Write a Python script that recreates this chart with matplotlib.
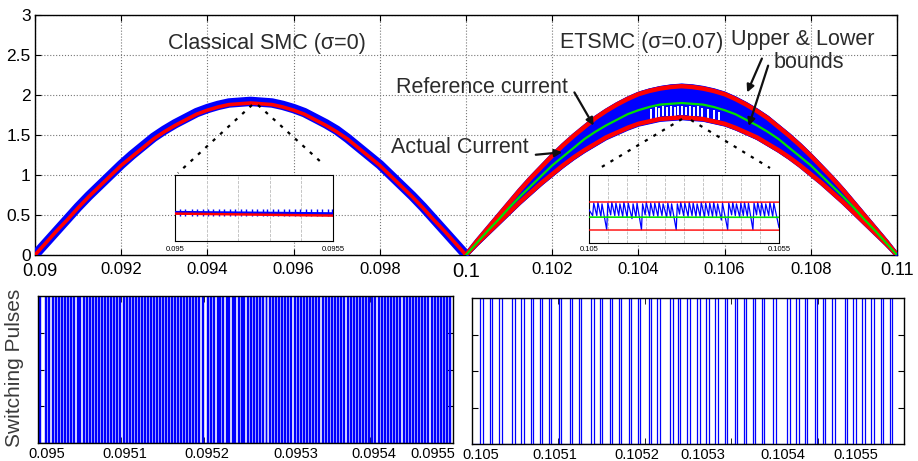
import numpy as np
import matplotlib
matplotlib.use("Agg")
import matplotlib.pyplot as plt
from matplotlib.ticker import FixedLocator

plt.rcParams['font.family'] = ['Liberation Sans', 'DejaVu Sans']

# ---------------- data ----------------
t_left_ms = [90.0, 90.25, 90.5, 90.75, 91.0, 91.25, 91.5, 91.75, 92.0, 92.25, 92.5,
             92.75, 93.0, 93.25, 93.5, 93.75, 94.0, 94.25, 94.5, 94.75, 95.0,
             95.25, 95.5, 95.75, 96.0, 96.25, 96.5, 96.75, 97.0, 97.25, 97.5,
             97.75, 98.0, 98.25, 98.5, 98.75, 99.0, 99.25, 99.5, 99.75, 100.0]
t_right_ms = [100.0, 100.25, 100.5, 100.75, 101.0, 101.25, 101.5, 101.75, 102.0, 102.25, 102.5,
              102.75, 103.0, 103.25, 103.5, 103.75, 104.0, 104.25, 104.5, 104.75, 105.0,
              105.25, 105.5, 105.75, 106.0, 106.25, 106.5, 106.75, 107.0, 107.25, 107.5,
              107.75, 108.0, 108.25, 108.5, 108.75, 109.0, 109.25, 109.5, 109.75, 110.0]
ref_left = [0.00, 0.15, 0.30, 0.44, 0.59, 0.73, 0.86, 0.99, 1.12, 1.23, 1.34,
            1.45, 1.54, 1.62, 1.69, 1.76, 1.81, 1.85, 1.88, 1.89, 1.90,
            1.89, 1.88, 1.85, 1.81, 1.76, 1.69, 1.62, 1.54, 1.45, 1.34,
            1.23, 1.12, 0.99, 0.86, 0.73, 0.59, 0.44, 0.30, 0.15, 0.00]
actual_left = [0.00, 0.15, 0.30, 0.45, 0.60, 0.74, 0.87, 1.00, 1.13, 1.25, 1.36,
               1.47, 1.56, 1.64, 1.71, 1.78, 1.83, 1.87, 1.90, 1.91, 1.92,
               1.91, 1.90, 1.87, 1.83, 1.78, 1.71, 1.64, 1.56, 1.46, 1.35,
               1.24, 1.13, 1.00, 0.87, 0.74, 0.60, 0.45, 0.30, 0.15, 0.00]
ref_right = [0.00, 0.15, 0.30, 0.44, 0.59, 0.73, 0.86, 0.99, 1.12, 1.23, 1.34,
             1.45, 1.54, 1.62, 1.69, 1.76, 1.81, 1.85, 1.88, 1.89, 1.90,
             1.89, 1.88, 1.85, 1.81, 1.76, 1.69, 1.62, 1.54, 1.45, 1.34,
             1.23, 1.12, 0.99, 0.86, 0.73, 0.59, 0.44, 0.30, 0.15, 0.00]
upper_right = [0.00, 0.17, 0.33, 0.49, 0.65, 0.81, 0.96, 1.10, 1.24, 1.37, 1.49,
               1.60, 1.71, 1.80, 1.88, 1.95, 2.01, 2.05, 2.08, 2.10, 2.11,
               2.10, 2.08, 2.05, 2.01, 1.95, 1.88, 1.80, 1.71, 1.60, 1.49,
               1.37, 1.24, 1.10, 0.96, 0.81, 0.65, 0.49, 0.33, 0.17, 0.00]
lower_right = [0.00, 0.14, 0.27, 0.40, 0.53, 0.66, 0.78, 0.90, 1.01, 1.12, 1.22,
               1.31, 1.39, 1.47, 1.53, 1.59, 1.64, 1.67, 1.70, 1.71, 1.72,
               1.71, 1.70, 1.67, 1.64, 1.59, 1.53, 1.47, 1.39, 1.31, 1.22,
               1.12, 1.01, 0.90, 0.78, 0.66, 0.53, 0.40, 0.27, 0.14, 0.00]
# white gaps inside the ETSMC band near the crest (time in ms, top of the gap)
gap_t_ms = [104.30, 104.40, 104.48, 104.57, 104.66, 104.75, 104.84, 104.93, 105.02,
            105.11, 105.20, 105.29, 105.38, 105.47, 105.62, 105.76, 105.86]
gap_top = [1.83, 1.85, 1.84, 1.86, 1.85, 1.86, 1.85, 1.86, 1.86,
           1.85, 1.86, 1.85, 1.86, 1.84, 1.83, 1.81, 1.79]

top_xticks = [0.09, 0.092, 0.094, 0.096, 0.098, 0.1, 0.102, 0.104, 0.106, 0.108, 0.11]
top_xlabels = ['', '0.092', '0.094', '0.096', '0.098', '0.1', '0.102', '0.104',
               '0.106', '0.108', '0.11']
first_xlabel = '0.09'
top_yticks = [0, 0.5, 1, 1.5, 2, 2.5, 3]
top_ylabels = ['0', '0.5', '1', '1.5', '2', '2.5', '3']

# left inset (classical SMC, 0.095 .. 0.0955 s): spike times in microseconds after 0.095
left_inset_spikes_us = [15.8, 31.6, 52.7, 68.6, 87.6, 103.4, 121.4, 140.3, 155.1, 174.1,
                        189.9, 208.9, 224.8, 242.7, 258.5, 277.5, 292.3, 311.3, 327.1,
                        345.1, 362.0, 379.9, 395.7, 414.7, 430.6, 448.5, 464.4, 483.4, 496.0]
left_inset_ref = [1.903, 1.897]
left_inset_base = [1.906, 1.902]
left_inset_spike_top = 1.918

# ETSMC switching instants (microseconds after 0.105 s)
right_rise_us = [9.6, 20.5, 31.3, 46.6, 57.1, 67.9, 78.4, 88.8, 100.3, 113.1, 123.5,
                 138.1, 147.8, 159.4, 170.1, 181.4, 192.1, 204.5, 214.5, 229.5, 238.4,
                 249.2, 260.8, 271.2, 281.6, 292.5, 304.1, 314.8, 325.2, 335.6, 348.4,
                 364.9, 375.4, 385.1, 396.6, 406.2, 416.7, 431.4, 441.0, 451.4, 462.2,
                 473.0, 483.5]
right_fall_us = [12.5, 23.4, 34.2, 49.5, 60.0, 70.8, 81.3, 91.7, 103.2, 116.0, 126.4,
                 141.0, 150.7, 162.3, 173.0, 184.3, 195.0, 207.4, 217.4, 232.4, 241.3,
                 252.1, 263.7, 274.1, 284.5, 295.4, 307.0, 317.7, 328.1, 338.5, 351.3,
                 367.8, 378.3, 388.0, 399.5, 409.1, 419.6, 434.3, 443.9, 454.3, 465.1,
                 475.9, 486.4]
right_trough = [1.92, 1.92, 1.91, 1.73, 1.93, 1.92, 1.92, 1.91, 1.90, 1.88, 1.90,
                1.73, 1.93, 1.91, 1.92, 1.91, 1.92, 1.90, 1.91, 1.73, 1.94,
                1.92, 1.91, 1.92, 1.91, 1.91, 1.90, 1.92, 1.91, 1.91, 1.86,
                1.73, 1.93, 1.92, 1.90, 1.92, 1.91, 1.73, 1.93, 1.92, 1.91,
                1.92, 1.91]
right_peak = [2.09, 2.10, 2.08, 2.09, 2.10, 2.09, 2.08, 2.10, 2.09, 2.08, 2.09,
              2.08, 2.10, 2.09, 2.09, 2.10, 2.08, 2.09, 2.08, 2.08, 2.10,
              2.09, 2.10, 2.09, 2.08, 2.10, 2.09, 2.09, 2.10, 2.08, 2.09,
              2.09, 2.10, 2.08, 2.09, 2.10, 2.09, 2.09, 2.10, 2.09, 2.08,
              2.10, 2.09]
right_inset_start = 2.00
right_inset_end = 1.76
right_inset_ref = [1.900, 1.898]
right_inset_upper = [2.105, 2.103]
right_inset_lower = [1.726, 1.724]

# classical SMC switching instants (microseconds after 0.095 s)
left_rise_us = [1.0, 8.4, 12.4, 16.5, 20.5, 24.5, 27.7, 31.3, 35.3, 38.6, 42.5, 46.6, 49.8,
                53.9, 57.5, 61.4, 65.4, 68.7, 72.6, 75.9, 79.9, 83.5, 86.7, 90.7, 94.0,
                98.0, 102.0, 105.7, 109.3, 112.9, 116.9, 120.1, 124.1, 127.7, 131.0,
                134.9, 138.2, 142.2, 146.1, 149.4, 153.0, 157.0, 160.2, 164.2, 167.8,
                171.1, 175.1, 178.3, 181.9, 185.9, 189.2, 193.1, 197.2, 203.3, 207.2,
                211.2, 215.3, 218.4, 222.0, 226.1, 229.3, 233.4, 236.5, 240.6, 244.2,
                247.3, 251.4, 255.2, 259.0, 262.9, 266.6, 270.4, 274.1, 277.9, 281.6,
                285.4, 289.1, 292.9, 296.6, 300.4, 304.2, 307.9, 311.7, 315.4, 319.2,
                322.9, 326.7, 330.4, 334.2, 337.9, 341.7, 345.4, 349.2, 352.9, 356.7,
                360.4, 364.2, 367.9, 371.7, 375.4, 379.2, 382.9, 386.7, 390.4, 394.2,
                397.9, 401.7, 405.4, 409.2, 412.9, 416.7, 420.4, 424.2, 427.9, 431.7,
                435.4, 439.2, 442.9, 446.7, 450.4, 454.2, 457.9, 461.7, 465.4, 469.2,
                472.9, 476.7, 480.4, 484.2, 487.9, 491.7, 495.4]
left_pulse_width_us = 1.2

bl_tick_pos = [0.09501, 0.095105, 0.095203, 0.095311, 0.095405, 0.095476]
bl_tick_lab = ['0.095', '0.0951', '0.0952', '0.0953', '0.0954', '0.0955']
br_tick_pos = [0.105010, 0.105096, 0.105191, 0.105267, 0.105360, 0.105444]
br_tick_lab = ['0.105', '0.1051', '0.1052', '0.1053', '0.1054', '0.1055']

# ---------------- figure ----------------
W, H = 918, 461
fig = plt.figure(figsize=(W / 100, H / 100), dpi=100)


def frac(l, t, r, b):
    return [l / W, 1 - b / H, (r - l) / W, (b - t) / H]


TXT = '#2b2b2b'
BLUE = '#0000ff'
RED = '#ff0000'
GREEN = '#00e000'

ax = fig.add_axes(frac(35, 15, 897, 255))
tl = np.array(t_left_ms) / 1000
tr = np.array(t_right_ms) / 1000
ax.plot(tl, actual_left, color=BLUE, lw=6.8, solid_capstyle='butt', zorder=3)
ax.plot(tl, ref_left, color=RED, lw=2.6, zorder=4)
up = np.array(upper_right)
lo = np.array(lower_right)
ax.fill_between(tr, lo - 0.03, up + 0.04, color=BLUE, lw=0, zorder=3)
ax.plot(tr, upper_right, color=BLUE, lw=3.5, zorder=3)
ax.plot(tr, lower_right, color=BLUE, lw=3.5, zorder=3)
gt = np.array(gap_t_ms) / 1000
ax.vlines(gt, np.interp(gt, tr, lo) + 0.03, gap_top, color='white', lw=1.4, zorder=3.5)
ax.plot(tr, upper_right, color=RED, lw=3.2, zorder=4)
ax.plot(tr, lower_right, color=RED, lw=3.2, zorder=4)
ax.plot(tr, ref_right, color=GREEN, lw=1.6, zorder=5)

ax.set_xlim(0.09, 0.11)
ax.set_ylim(0, 3)
ax.set_xticks(top_xticks)
ax.set_xticklabels(top_xlabels)
ax.set_yticks(top_yticks)
ax.set_yticklabels(top_ylabels)
for lab, s in zip(ax.get_xticklabels(), top_xlabels):
    lab.set_fontsize(12)
    if s == '0.11':
        lab.set_fontsize(13)
    if s == '0.1':
        lab.set_fontsize(14.5)
for lab in ax.get_yticklabels():
    lab.set_fontsize(12.5)
ax.tick_params(direction='in', top=True, right=True, length=4, width=0.8)
ax.tick_params(axis='x', pad=5)
ax.tick_params(axis='y', pad=3)
ax.annotate(first_xlabel, xy=(top_xticks[0], 0), xycoords=('data', 'axes fraction'),
            xytext=(3.8, -5.5), textcoords='offset points', ha='center', va='top',
            fontsize=13)
ax.grid(True, color='#777777', linestyle=':', linewidth=0.8)
for s in ax.spines.values():
    s.set_linewidth(1.0)

# zoom connector lines
dash = dict(color='black', lw=1.6, ls=(0, (1.5, 3.0)), zorder=6)
ax.plot([0.095035, 0.093318], [1.875, 1.025], **dash)
ax.plot([0.095174, 0.096659], [1.875, 1.15], **dash)
ax.plot([0.105012, 0.103109], [1.70, 1.0875], **dash)
ax.plot([0.10522, 0.107053], [1.6875, 1.0875], **dash)

# annotations
fs = 15.5
ax.text(0.09538, 2.64, 'Classical SMC (σ=0)', fontsize=fs, color=TXT, ha='center', va='center')
ax.text(0.10408, 2.66, 'ETSMC (σ=0.07)', fontsize=fs, color=TXT, ha='center', va='center')
ax.text(0.10782, 2.69, 'Upper & Lower', fontsize=fs, color=TXT, ha='center', va='center')
ax.text(0.10796, 2.41, 'bounds', fontsize=fs, color=TXT, ha='center', va='center')
ax.text(0.10038, 2.10, 'Reference current', fontsize=fs, color=TXT, ha='center', va='center')
ax.text(0.09986, 1.34, 'Actual Current', fontsize=fs, color=TXT, ha='center', va='center')
arr = dict(arrowstyle='-|>', color='#111111', lw=1.6, mutation_scale=11)
ax.annotate('', xy=(0.102993, 1.5875), xytext=(0.102483, 2.0625), arrowprops=arr, zorder=7)
ax.annotate('', xy=(0.102297, 1.2875), xytext=(0.101555, 1.25), arrowprops=arr, zorder=7)
ax.annotate('', xy=(0.106497, 2.00), xytext=(0.106891, 2.4875), arrowprops=arr, zorder=7)
ax.annotate('', xy=(0.106540, 1.58), xytext=(0.107030, 2.40), arrowprops=arr, zorder=7)

# ---------------- left inset ----------------
axl = fig.add_axes(frac(175, 175, 333, 241))
axl.set_xlim(0.095, 0.0955)
axl.set_ylim(1.82, 2.02)
axl.plot([0.095, 0.0955], left_inset_base, color=BLUE, lw=2.5, zorder=3)
sp = 0.095 + np.array(left_inset_spikes_us) * 1e-6
axl.vlines(sp, 1.896, left_inset_spike_top, color=BLUE, lw=1.0, zorder=3)
axl.plot([0.095, 0.0955], left_inset_ref, color=RED, lw=1.8, zorder=4)
axl.xaxis.set_major_locator(FixedLocator([0.0951, 0.0952, 0.0953, 0.0954]))
axl.set_yticks([])
axl.tick_params(labelbottom=False, length=0)
axl.grid(True, axis='x', color='#bbbbbb', ls='--', lw=0.6)
axl.text(0.0, -0.07, '0.095', transform=axl.transAxes, fontsize=5.5, ha='center', va='top')
axl.text(1.0, -0.07, '0.0955', transform=axl.transAxes, fontsize=5.5, ha='center', va='top')

# ---------------- right inset ----------------
axr = fig.add_axes(frac(589, 175, 779, 243))
axr.set_xlim(0.105, 0.1055)
axr.set_ylim(1.55, 2.47)
zx = [0.0]
zy = [right_inset_start]
for r, f, lo_, hi_ in zip(right_rise_us, right_fall_us, right_trough, right_peak):
    zx += [r, f]
    zy += [lo_, hi_]
zx.append(500.0)
zy.append(right_inset_end)
zx = 0.105 + np.array(zx) * 1e-6
axr.plot(zx, zy, color=BLUE, lw=0.9, zorder=3)
axr.plot([0.105, 0.1055], right_inset_upper, color=RED, lw=1.0, zorder=4)
axr.plot([0.105, 0.1055], right_inset_lower, color=RED, lw=1.0, zorder=4)
axr.plot([0.105, 0.1055], right_inset_ref, color=GREEN, lw=1.2, zorder=5)
axr.xaxis.set_major_locator(FixedLocator([0.10505 + 0.00005 * k for k in range(9)]))
axr.set_yticks([])
axr.tick_params(labelbottom=False, length=0)
axr.grid(True, axis='x', color='#bbbbbb', ls='--', lw=0.6)
axr.text(0.0, -0.04, '0.105', transform=axr.transAxes, fontsize=5.5, ha='center', va='top')
axr.text(1.0, -0.04, '0.1055', transform=axr.transAxes, fontsize=5.5, ha='center', va='top')


# ---------------- switching pulses ----------------
def pulse_xy(t0, rises, falls):
    xs, ys = [t0], [0]
    for r, f in zip(rises, falls):
        r = t0 + r * 1e-6
        f = t0 + f * 1e-6
        xs += [r, r, f, f]
        ys += [0, 1, 1, 0]
    return xs, ys


axbl = fig.add_axes(frac(38, 296, 453, 443))
lx, ly = pulse_xy(0.095, left_rise_us, [r + left_pulse_width_us for r in left_rise_us])
axbl.plot(lx, ly, color=BLUE, lw=1.0)
axbl.set_xlim(0.095, 0.0955)
axbl.set_ylim(0, 1)

axbr = fig.add_axes(frac(472, 298, 904, 444))
rx, ry = pulse_xy(0.105, right_rise_us, right_fall_us)
axbr.plot(rx, ry, color=BLUE, lw=0.9)
axbr.set_xlim(0.105, 0.1055)
axbr.set_ylim(0, 1)

for a, pos, lab, true_ticks in ((axbl, bl_tick_pos, bl_tick_lab, [0.0951, 0.0952, 0.0953, 0.0954]),
                                (axbr, br_tick_pos, br_tick_lab, [0.1051, 0.1052, 0.1053, 0.1054])):
    a.set_xticks(pos)
    a.set_xticklabels(lab, fontsize=10.5)
    a.xaxis.set_minor_locator(FixedLocator(true_ticks))
    a.tick_params(axis='x', which='major', length=0, pad=3)
    a.tick_params(axis='x', which='minor', direction='in', top=True, bottom=True, length=4)
    a.set_yticks([0.25, 0.5, 0.75])
    a.tick_params(axis='y', direction='in', left=True, right=True, labelleft=False, length=4)
    for s in a.spines.values():
        s.set_linewidth(1.0)

fig.text(15 / W, 1 - 368 / H, 'Switching Pulses', rotation=90, fontsize=15,
         color='#3a3a3a', ha='center', va='center')

fig.savefig('out.png', dpi=100)
